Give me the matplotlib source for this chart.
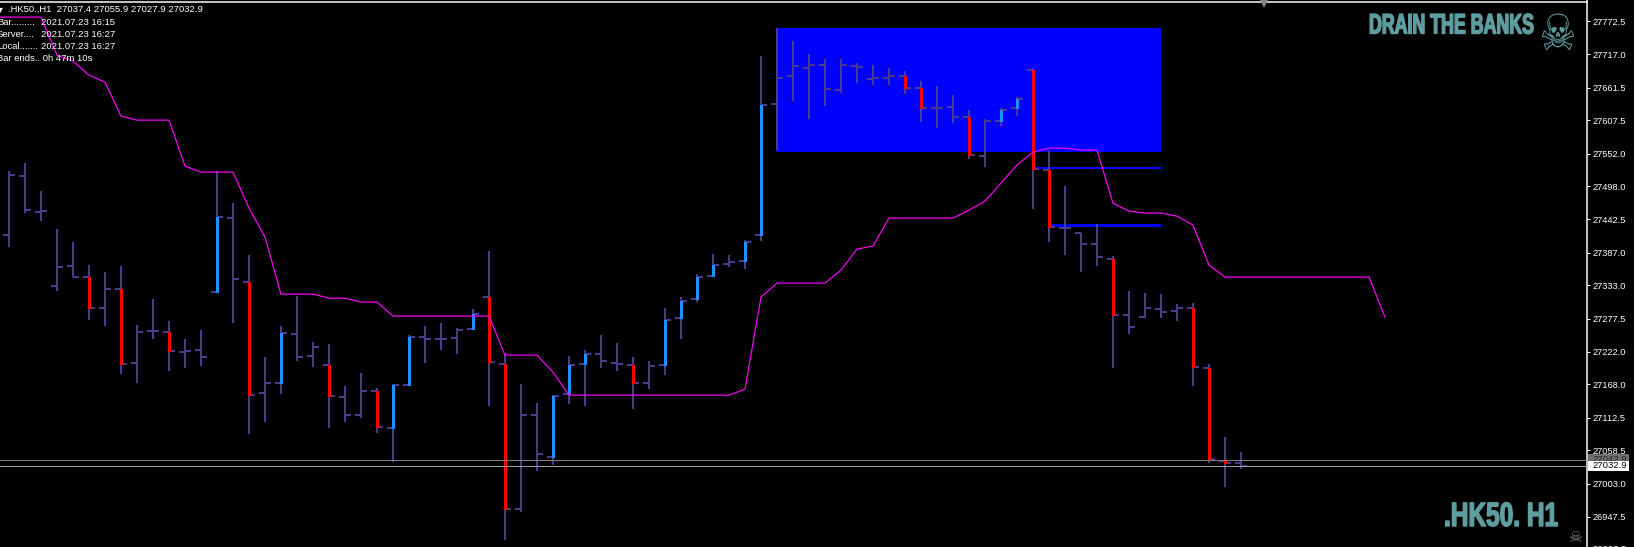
#!/usr/bin/env python3

import numpy as np
import matplotlib
matplotlib.use("Agg")
from matplotlib import pyplot as plt
from matplotlib.lines import Line2D
from matplotlib.patches import Rectangle
from matplotlib.transforms import Affine2D
import matplotlib.patheffects as pe

opens = [27416.4,27514.5,27454.7,27331.5,27364.8,27346.5,27294.9,27326.5,27203.4,27256.6,
         27255.0,27221.7,27225.0,27321.5,27444.7,27338.2,27153.4,27170.1,27251.6,27215.0,
         27200.1,27146.8,27116.9,27156.7,27095.2,27166.8,27246.7,27243.3,27245.0,27259.9,
         27313.2,27201.7,26960.4,27116.9,27047.0,27151.7,27201.7,27218.3,27203.4,27200.1,
         27170.1,27200.1,27278.3,27309.8,27348.1,27368.1,27373.1,27416.4,27634.3,27680.9,
         27694.3,27699.3,27657.6,27697.6,27676.0,27677.6,27680.9,27661.0,27627.7,27629.4,
         27612.8,27547.8,27606.0,27627.7,27690.9,27524.5,27428.0,27419.7,27401.3,27376.4,
         27283.3,27280.0,27293.2,27289.9,27294.9,27195.1,27040.3,27037.4]
highs = [27522.8,27536.2,27489.5,27426.3,27404.7,27366.5,27354.8,27364.8,27266.6,27309.8,
         27273.2,27243.3,27258.3,27522.8,27469.6,27383.1,27213.4,27264.9,27314.8,27238.3,
         27234.9,27165.1,27186.7,27161.8,27168.4,27250.0,27264.9,27269.9,27261.6,27293.2,
         27389.7,27220.0,27168.4,27136.8,27150.1,27215.0,27225.0,27250.0,27236.6,27213.4,
         27206.7,27294.9,27313.2,27351.4,27384.7,27383.1,27408.0,27714.2,27760.8,27739.1,
         27717.5,27709.2,27709.2,27702.6,27699.3,27694.3,27689.2,27672.6,27664.3,27649.3,
         27624.4,27609.4,27627.7,27646.0,27694.3,27557.8,27497.9,27419.7,27434.6,27381.4,
         27323.1,27319.8,27318.1,27301.5,27303.2,27201.7,27080.3,27055.9]
lows = [27396.4,27453.0,27439.6,27323.1,27346.5,27274.9,27264.9,27185.0,27170.1,27243.3,
        27190.0,27195.1,27198.4,27319.8,27269.9,27085.2,27105.2,27151.7,27206.7,27196.8,
        27095.2,27105.2,27111.9,27086.9,27038.7,27166.8,27203.4,27225.0,27218.3,27258.3,
        27131.8,26908.8,26955.5,27023.6,27033.7,27135.1,27131.8,27195.1,27190.0,27126.8,
        27160.1,27183.4,27243.3,27304.9,27346.5,27363.2,27359.8,27406.3,27557.8,27639.3,
        27609.4,27631.0,27652.6,27669.3,27666.0,27666.0,27650.9,27604.4,27594.4,27602.7,
        27542.8,27529.5,27597.7,27614.4,27459.6,27404.7,27383.1,27354.8,27364.8,27195.1,
        27251.6,27278.3,27278.3,27273.2,27165.1,27037.0,26997.1,27027.9]
closes = [27516.2,27458.0,27456.3,27363.2,27346.5,27294.9,27326.5,27201.7,27255.0,27256.6,
          27223.3,27223.3,27213.4,27446.4,27343.1,27150.1,27170.1,27253.3,27213.4,27230.0,
          27148.4,27116.9,27156.7,27096.9,27166.8,27246.7,27243.3,27243.3,27258.3,27284.9,
          27205.1,26960.4,27116.9,27051.9,27148.4,27200.1,27218.3,27206.7,27201.7,27170.1,
          27198.4,27274.9,27306.5,27346.5,27366.5,27371.5,27404.7,27632.7,27677.6,27697.6,
          27699.3,27659.3,27699.3,27696.0,27677.6,27680.9,27661.0,27627.7,27627.7,27612.8,
          27549.5,27606.0,27624.4,27642.6,27526.2,27429.7,27428.0,27401.3,27379.8,27283.3,
          27263.3,27294.9,27288.3,27294.9,27196.8,27043.6,27037.0,27032.9]

# bars the indicator paints, index into the lists above
red_bars = [5,7,10,15,20,23,30,31,39,56,57,60,64,65,69,74,75,76]
blue_bars = [13,17,24,25,29,34,35,36,41,42,43,44,46,47,62,63]

# starts one bar left of the first ohlc bar
trail = [27779.1,27779.1,27779.1,27779.1,27715.9,27705.9,27682.6,27671.0,27614.4,27607.7,
         27607.7,27607.7,27531.2,27521.2,27521.2,27521.2,27461.3,27413.0,27318.2,27318.2,
         27318.2,27311.5,27311.5,27304.9,27304.9,27281.6,27281.6,27281.6,27281.6,27281.6,
         27281.6,27281.6,27216.7,27216.7,27216.7,27188.4,27150.1,27150.1,27150.1,27150.1,
         27150.1,27150.1,27150.1,27150.1,27150.1,27150.1,27150.1,27160.1,27313.2,27336.5,
         27336.5,27336.5,27336.5,27358.1,27393.1,27398.1,27444.7,27444.7,27444.7,27444.7,
         27444.7,27458.0,27472.9,27502.9,27532.9,27554.5,27561.1,27561.1,27557.8,27557.8,
         27469.6,27456.3,27453.0,27453.0,27448.0,27433.0,27366.5,27346.5,27346.5,27346.5,
         27346.5,27346.5,27346.5,27346.5,27346.5,27346.5,27346.5,27280.0]

zone_tops = [27760.8,27530.0,27434.6]
zone_bottoms = [27554.5,27526.2,27429.7]
zone_starts = [47.95,64.0,65.0]
zone_end = 72.0

bid = 27032.9
ask = 27042.9
price_ticks = [27772.5,27717.0,27661.5,27607.5,27552.0,27498.0,27442.5,27387.0,
               27333.0,27277.5,27222.0,27168.0,27112.5,27058.5,27003.0,26947.5]
cut_tick = 26893.5  # only the top of this label shows at the bottom edge

info_names = ["Bar.........", "Server....", "Local.......", "Bar ends.. 0h 47m 10s"]
info_times = ["2021.07.23 16:15", "2021.07.23 16:27", "2021.07.23 16:27", ""]

W, H = 1634, 547
BAR_COL = "#483D8B"
TEAL = "#5F9EA0"
PX = 72.0/100.0  # points per pixel
UI_FONT = ["Liberation Sans", "DejaVu Sans"]
TOP_PRICE = 27807.6
PRICE_PER_PX = 1.664


class TallText(pe.AbstractPathEffect):
    """stretch the glyphs upward from the baseline, no narrow heavy font here"""
    def __init__(self, sy, stroke):
        super().__init__()
        self.sy = sy
        self.stroke = stroke

    def draw_path(self, renderer, gc, tpath, affine, rgbFace=None):
        gc0 = renderer.new_gc()
        gc0.copy_properties(gc)
        gc0.set_linewidth(self.stroke)
        gc0.set_foreground(rgbFace)
        renderer.draw_path(gc0, tpath, Affine2D().scale(1, self.sy) + affine, rgbFace)
        gc0.restore()


plt.rcParams["font.family"] = ["DejaVu Sans"]
fig = plt.figure(figsize=(W/100, H/100), dpi=100, facecolor="black")
ax = fig.add_axes([0, 0, 1586.5/W, 1], facecolor="black")

opens = np.array(opens); highs = np.array(highs); lows = np.array(lows); closes = np.array(closes)
idx = np.arange(len(opens))

for t, b, s in zip(zone_tops, zone_bottoms, zone_starts):
    ax.add_patch(Rectangle((s, b), zone_end-s, t-b, facecolor="#0000FF", edgecolor="none", zorder=1))

tick_w = 5/16.0
ax.vlines(idx, lows, highs, color=BAR_COL, lw=2*PX, zorder=2, capstyle="butt", antialiased=False)
ax.hlines(opens, idx-tick_w-1/16.0, idx, color=BAR_COL, lw=2*PX, zorder=2, antialiased=False)
ax.hlines(closes, idx, idx+tick_w+1/16.0, color=BAR_COL, lw=2*PX, zorder=2, antialiased=False)

for bars, col in ((red_bars, "#FF0000"), (blue_bars, "#1E90FF")):
    ax.vlines(idx[bars]+0.5/16.0, opens[bars], closes[bars], color=col, lw=3*PX, zorder=3,
              capstyle="butt", antialiased=False)

ax.plot(np.arange(-1, len(trail)-1), trail, color="#FF00FF", lw=1.2*PX, zorder=4)

ax.axhline(ask, color="#808080", lw=1*PX, zorder=5, antialiased=False)
ax.axhline(bid, color="#A0A0A0", lw=1*PX, zorder=5, antialiased=False)

ax.yaxis.tick_right()
ax.set_yticks(price_ticks)
ax.set_yticklabels(["%.1f" % p for p in price_ticks], fontsize=6.7, color="white", family=UI_FONT)
ax.tick_params(axis="y", length=3*PX, width=1*PX, color="white", pad=3*PX)
ax.set_xticks([])
# limits last, set_yticks widens them otherwise
ax.set_xlim(-9/16.0, (1586.5-9)/16.0)
ax.set_ylim(TOP_PRICE-PRICE_PER_PX*H, TOP_PRICE)
for s in ("left", "top", "bottom"):
    ax.spines[s].set_visible(False)
ax.spines["right"].set_color("white")
ax.spines["right"].set_linewidth(1.5*PX)

# top border and shift marker
fig.add_artist(Line2D([0, 1586.5/W], [1-1.5/H, 1-1.5/H], color="white", lw=1.5*PX))
fig.add_artist(Line2D([1264/W], [1-3/H], marker="v", color="#808080", ms=7, mew=0))


def put(x, y, s, **kw):
    return fig.text(x/W, 1-y/H, s, **kw)


small = dict(fontsize=6.8, color="white", family=UI_FONT, va="center")
put(8, 9.5, ".HK50.,H1  27037.4 27055.9 27027.9 27032.9", **small)
for i, (name, when) in enumerate(zip(info_names, info_times)):
    put(-3, 22.5+12*i, name, **small)
    put(41, 22.5+12*i, when, **small)
put(-2, 9.5, "\u25be", fontsize=7, color="white", va="center")
put(1592, (TOP_PRICE-cut_tick)/PRICE_PER_PX, "%.1f" % cut_tick, **small)

# price labels on the scale, bid box covers the ask box
fig.add_artist(Rectangle((1588/W, 1-461/H), 41/W, 7/H, facecolor="#6E6E6E", edgecolor="none",
                         transform=fig.transFigure, zorder=1))
put(1592, 459, "%.1f" % ask, zorder=1.5, **{**small, "color": "#2A2A2A"})
fig.add_artist(Rectangle((1588/W, 1-471/H), 41/W, 10/H, facecolor="white", edgecolor="none",
                         transform=fig.transFigure, zorder=2))
put(1592, 465.5, "%.1f" % bid, zorder=10, **{**small, "color": "black"})

put(1369, 33.5, "DRAIN THE BANKS", fontsize=12.8, fontweight="bold", color=TEAL, va="baseline",
    family=UI_FONT, path_effects=[TallText(1.59, 1.0)])
put(1444, 526, ".HK50. H1", fontsize=17.6, fontweight="bold", color=TEAL, va="baseline",
    family=UI_FONT, path_effects=[TallText(1.38, 1.0)])
put(1558, 50, "\u2620", fontsize=30, color=TEAL, ha="center", va="baseline",
    path_effects=[TallText(1.2, 0.0)])
put(1575, 537, "\u2620", fontsize=11, color="#808080", ha="center", va="center")

fig.savefig("out.png", dpi=100, facecolor="black")
